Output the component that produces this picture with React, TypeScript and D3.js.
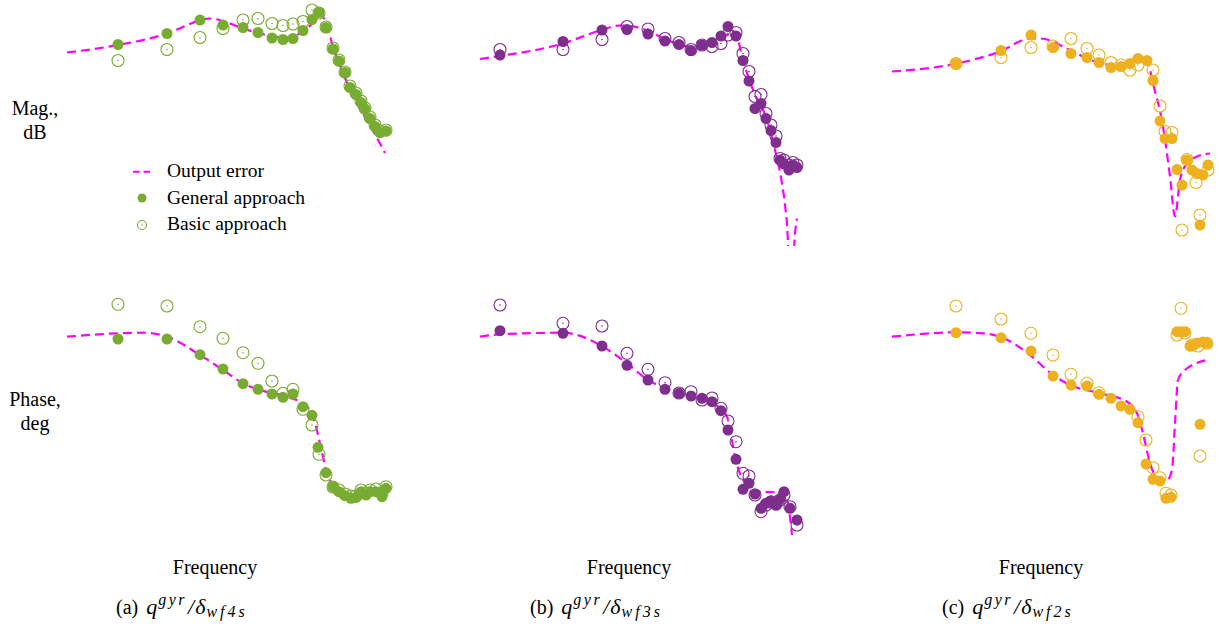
import React from 'react';
import * as d3 from 'd3';

type P = [number, number];

// x: frequency units, y: magnitude in dB / phase in deg
const aMagOE: P[] = [[0.7,-0.5],[5.8,1.0],[10.7,3.3],[14.0,5.9],[15.0,6.3],[16.7,5.5],[18.3,4.3],[20.0,3.3],[21.3,2.7],[22.7,2.5],[23.7,3.0],[24.7,4.3],[25.7,6.3],[26.0,7.0],[26.5,6.0],[27.3,0.7],[28.3,-4.6],[29.3,-9.3],[30.7,-14.0],[32.5,-20.6]];
const aMagGen: P[] = [[5.8,1.1],[10.7,3.3],[14.0,6.0],[16.3,5.0],[18.3,4.5],[19.8,3.5],[21.2,2.4],[22.3,2.1],[23.3,2.3],[24.3,3.9],[25.2,6.1],[25.9,7.5],[26.6,4.5],[27.3,0.2],[27.9,-2.2],[28.5,-4.5],[29.0,-7.5],[29.6,-8.9],[30.1,-10.5],[30.5,-11.8],[31.0,-13.7],[31.5,-15.3],[32.0,-16.5],[32.6,-16.2]];
const aMagBas: P[] = [[5.8,-2.1],[10.7,0.1],[14.0,2.5],[16.3,4.3],[18.3,6.0],[19.8,6.3],[21.2,5.3],[22.3,4.9],[23.3,5.2],[24.3,5.7],[25.2,8.0],[25.9,7.4],[26.6,4.6],[27.3,0.4],[27.9,-2.0],[28.5,-4.4],[29.0,-7.2],[29.6,-8.6],[30.1,-10.2],[30.5,-11.6],[31.0,-13.4],[31.5,-15.0],[32.0,-16.2],[32.6,-16.0]];
const aPhOE: P[] = [[0.7,-46.7],[5.8,-43.3],[8.3,-42.7],[10.7,-46.7],[14.0,-65],[16.3,-80],[18.3,-93.3],[20.0,-100],[22.7,-106.7],[24.7,-116.7],[25.5,-133.3],[26.0,-153.3],[26.7,-183.3],[27.7,-198.3],[29.3,-204],[31.3,-201.7],[32.5,-197.7]];
const aPhGen: P[] = [[5.8,-49],[10.7,-49],[14.0,-64.7],[16.3,-79],[18.3,-93.7],[19.8,-99.3],[21.2,-104],[22.3,-107.3],[23.3,-104],[24.3,-116.7],[25.2,-125.3],[25.8,-157.3],[26.6,-182.7],[27.3,-196.7],[27.9,-201.7],[28.5,-205.7],[29.1,-208.3],[29.6,-207.3],[30.1,-201.7],[30.6,-205],[31.0,-201.7],[31.6,-201.7],[32.2,-206.7],[32.6,-198.3]];
const aPhBas: P[] = [[5.8,-14.3],[10.7,-16],[14.0,-36.7],[16.3,-48.3],[18.3,-62.7],[19.8,-73.3],[21.2,-91],[22.3,-103.3],[23.3,-99.3],[24.3,-119.3],[25.2,-135],[25.9,-164.3],[26.6,-185],[27.3,-197],[27.9,-200],[28.5,-204],[29.1,-206],[29.6,-206],[30.1,-200],[30.6,-203],[31.0,-200],[31.6,-199],[32.2,-203],[32.6,-196.7]];

const bMagOE: P[] = [[0.6,-1.8],[2.6,-1.2],[8.9,1.3],[12.6,3.9],[14.6,4.9],[15.6,4.8],[17.3,3.9],[19.3,2.0],[21.6,0.7],[23.9,1.0],[25.3,3.0],[25.8,3.9],[26.3,2.7],[26.9,-2.0],[27.9,-8.0],[29.3,-14.0],[30.1,-20.0],[30.8,-26.7],[31.1,-31],[31.4,-38.7],[31.6,-70],[31.8,-70],[32.0,-40],[32.3,-33.7]];
const bMagGen: P[] = [[2.6,-1.0],[8.9,1.7],[12.8,4.0],[15.3,4.1],[17.4,3.2],[19.1,1.8],[20.5,1.1],[21.7,-0.1],[22.8,1.0],[23.8,1.5],[24.7,2.8],[25.4,4.7],[26.2,2.8],[26.9,-2.1],[27.5,-6.2],[28.1,-11.7],[28.7,-10.7],[29.2,-13.7],[29.7,-16.1],[30.2,-18.5],[30.6,-22],[31.0,-22.8],[31.5,-24],[31.9,-23],[32.3,-23.5]];
const bMagBas: P[] = [[2.6,0.1],[8.9,0.1],[12.8,2.1],[15.3,4.7],[17.4,4.2],[19.1,2.3],[20.5,1.5],[21.7,0.1],[22.8,1.0],[23.8,0.7],[24.7,1.3],[25.4,3.0],[26.2,3.5],[26.9,-0.7],[27.5,-4.3],[28.1,-9.3],[28.7,-8.9],[29.2,-12.7],[29.7,-15.0],[30.2,-17.2],[30.6,-21.7],[31.0,-22],[31.5,-23],[31.9,-22.5],[32.3,-23]];
const bPhOE: P[] = [[0.6,-46.7],[2.6,-44.3],[8.9,-42.7],[10.3,-45],[12.6,-55],[15.3,-73.3],[17.4,-90],[19.1,-98.3],[21.9,-106.7],[23.9,-113.3],[25.3,-126.7],[25.6,-140],[26.1,-166.7],[26.9,-190],[28.3,-201.7],[31.1,-202.7],[31.4,-213.3],[31.8,-245]];
const bPhGen: P[] = [[2.6,-40.7],[8.9,-43.3],[12.8,-56],[15.3,-75.3],[17.4,-90],[19.1,-99.3],[20.5,-103.3],[21.7,-106],[22.8,-108.3],[23.8,-111.7],[24.7,-120.7],[25.4,-140],[26.2,-169.3],[26.9,-199.3],[27.5,-193.3],[28.1,-204],[28.7,-218.3],[29.2,-213.3],[29.7,-210.7],[30.2,-215],[30.6,-209.3],[31.0,-201.7],[31.6,-218.3],[32.3,-230]];
const bPhBas: P[] = [[2.6,-15],[8.9,-33.3],[12.8,-36],[15.3,-63.3],[17.4,-79.3],[19.1,-92.7],[20.5,-103],[21.7,-101.7],[22.8,-110],[23.8,-108],[24.7,-118.3],[25.4,-131],[26.2,-151.7],[26.9,-183.3],[27.5,-186],[28.1,-205],[28.7,-221.7],[29.2,-215],[29.7,-212],[30.2,-214],[30.6,-210],[31.0,-205],[31.6,-216.7],[32.3,-235]];

const cMagOE: P[] = [[0.6,-4.3],[7.1,-2.7],[11.4,-0.3],[14.4,2.3],[15.4,2.3],[18.4,0],[20.1,-1.7],[22.7,-3.0],[24.4,-2.3],[25.4,-1.3],[26.1,-2.0],[26.7,-6.7],[27.7,-15.3],[28.4,-25.3],[28.9,-33.3],[29.4,-26],[30.1,-22.7],[31.1,-21.3],[32.4,-20.7]];
const cMagGen: P[] = [[7.0,-2.7],[11.5,-0.1],[14.5,3.0],[16.7,0.5],[18.5,-0.7],[20.1,-1.5],[21.3,-2.5],[22.5,-3.5],[23.5,-3.3],[24.4,-2.7],[25.2,-1.7],[26.1,-2.1],[26.7,-6.1],[27.4,-14.2],[27.9,-17.7],[28.6,-17.7],[29.1,-23.9],[29.6,-27],[30.1,-22],[30.6,-24],[31.1,-24.7],[31.7,-25],[32.2,-23],[31.4,-35]];
const cMagBas: P[] = [[7.0,-2.7],[11.5,-1.5],[14.5,0.5],[16.7,0.8],[18.5,2.3],[20.1,0.3],[21.3,-1.0],[22.5,-2.5],[23.5,-3.0],[24.4,-4.0],[25.2,-3.0],[26.7,-4.0],[27.4,-11.2],[27.9,-16.3],[28.6,-16.5],[29.6,-36],[30.1,-21.9],[31.0,-26.5],[32.2,-24],[31.4,-33]];
const cPhOE: P[] = [[0.6,-46.7],[7.1,-42.3],[9.7,-43.3],[11.4,-46.7],[14.4,-65],[16.7,-85],[18.4,-95],[21.4,-103.3],[24.1,-111.7],[25.1,-123.3],[25.7,-143.3],[26.4,-173.3],[27.4,-190],[28.1,-190],[28.6,-180],[28.9,-133.3],[29.2,-90],[29.9,-80],[32.4,-69.3]];
const cPhGen: P[] = [[7.0,-42.7],[11.5,-47.7],[14.5,-61],[16.7,-86],[18.5,-95],[20.1,-96],[21.3,-104.3],[22.5,-108.3],[23.5,-116],[24.4,-119.3],[25.2,-132.7],[26.0,-174],[26.7,-189.3],[27.4,-191],[28.0,-208.3],[28.5,-207.3],[29.1,-41.7],[29.5,-41.7],[29.9,-41.7],[30.4,-56],[30.7,-55],[31.1,-53],[31.7,-52],[32.1,-53.3],[31.4,-134.3]];
const cPhBas: P[] = [[7.0,-16],[11.5,-29],[14.5,-43.3],[16.7,-65],[18.5,-84.3],[20.1,-93.3],[21.3,-102.7],[25.2,-126.7],[26.0,-150],[26.7,-177.7],[27.4,-187.7],[28.0,-203.3],[28.5,-205],[29.1,-45],[29.5,-18.3],[29.9,-43],[30.6,-55],[31.2,-56],[32.1,-53.3],[31.4,-166]];

const panelIds = ['a', 'b', 'c'];
const panelSubs = ['wf4s', 'wf3s', 'wf2s'];
const panelColors = ['#77AC30', '#7E2F8E', '#EDB120'];
const panelX0 = [60, 474, 886];
const legendLabels = ['Output error', 'General approach', 'Basic approach'];
const rowLabels = [['Mag.,', 'dB'], ['Phase,', 'deg']];
const xLabel = 'Frequency';

const OE_COLOR = '#FF00FF';
const FONT = '"Liberation Serif", "Times New Roman", serif';

const magData = [[aMagOE, aMagGen, aMagBas], [bMagOE, bMagGen, bMagBas], [cMagOE, cMagGen, cMagBas]];
const phData = [[aPhOE, aPhGen, aPhBas], [bPhOE, bPhGen, bPhBas], [cPhOE, cPhGen, cPhBas]];

function Markers({ data, x, y, color, open }: { data: P[]; x: any; y: any; color: string; open: boolean }) {
  return (
    <g>
      {data.map((d, i) =>
        open ? (
          <g key={i} transform={`translate(${x(d[0])},${y(d[1])})`}>
            <circle r={6} fill="none" stroke={color} strokeWidth={1.1} />
            <circle r={0.8} fill={color} />
          </g>
        ) : (
          <circle key={i} cx={x(d[0])} cy={y(d[1])} r={5.5} fill={color} />
        )
      )}
    </g>
  );
}

function Panel({ idx }: { idx: number }) {
  const x0 = panelX0[idx];
  const color = panelColors[idx];
  const x = d3.scaleLinear().domain([0, 34]).range([x0, x0 + 340]);
  const yM = d3.scaleLinear().domain([10, -40]).range([0, 250]);
  const yP = d3.scaleLinear().domain([0, -250]).range([290, 540]);
  const mkLine = (ys: any) => d3.line<P>().x(d => x(d[0])).y(d => ys(d[1])).curve(d3.curveMonotoneX);
  const [mOE, mGen, mBas] = magData[idx];
  const [pOE, pGen, pBas] = phData[idx];
  const clipId = `clipmag${idx}`;
  return (
    <g>
      <defs>
        <clipPath id={clipId}>
          <rect x={x0 - 10} y={0} width={360} height={yM(-39.2)} />
        </clipPath>
      </defs>
      <path d={mkLine(yM)(mOE) || ''} fill="none" stroke={OE_COLOR} strokeWidth={2.2} strokeDasharray="9,5" clipPath={`url(#${clipId})`} />
      <Markers data={mBas} x={x} y={yM} color={color} open={true} />
      <Markers data={mGen} x={x} y={yM} color={color} open={false} />
      <path d={mkLine(yP)(pOE) || ''} fill="none" stroke={OE_COLOR} strokeWidth={2.2} strokeDasharray="9,5" />
      <Markers data={pBas} x={x} y={yP} color={color} open={true} />
      <Markers data={pGen} x={x} y={yP} color={color} open={false} />
      <text x={x0 + 155} y={574} textAnchor="middle" fontSize={20} fontFamily={FONT}>{xLabel}</text>
      <text x={x0 + 56} y={614} fontSize={20} fontFamily={FONT}>
        <tspan>({panelIds[idx]})</tspan>
        <tspan dx={8} fontSize={22} fontStyle="italic">q</tspan>
        <tspan dx={1} dy={-9} fontSize={16} fontStyle="italic" letterSpacing={2.5}>gyr</tspan>
        <tspan dx={1} dy={9} fontSize={22} fontStyle="italic">/</tspan>
        <tspan dx={1} fontSize={22} fontStyle="italic">δ</tspan>
        <tspan dx={1} dy={3} fontSize={16} fontStyle="italic" letterSpacing={3}>{panelSubs[idx]}</tspan>
      </text>
    </g>
  );
}

export default function App() {
  const legendColor = panelColors[0];
  return (
    <svg width={1219} height={626} style={{ position: 'absolute', left: 0, top: 0, background: '#fff' }}>
      {panelX0.map((_, i) => <Panel key={i} idx={i} />)}
      {rowLabels.map((lbl, r) => (
        <text key={r} x={35} y={r === 0 ? 115 : 406} textAnchor="middle" fontSize={20} fontFamily={FONT}>
          <tspan x={35}>{lbl[0]}</tspan>
          <tspan x={35} dy={24}>{lbl[1]}</tspan>
        </text>
      ))}
      <g>
        <line x1={133} x2={150} y1={171.7} y2={171.7} stroke={OE_COLOR} strokeWidth={2} strokeDasharray="6.5,4" />
        <circle cx={142} cy={198} r={4.5} fill={legendColor} />
        <circle cx={142} cy={225} r={4.5} fill="none" stroke={legendColor} strokeWidth={1.1} />
        <circle cx={142} cy={225} r={0.7} fill={legendColor} />
        {legendLabels.map((t, i) => (
          <text key={i} x={167} y={177 + i * 26.5} fontSize={19.5} fontFamily={FONT}>{t}</text>
        ))}
      </g>
    </svg>
  );
}
